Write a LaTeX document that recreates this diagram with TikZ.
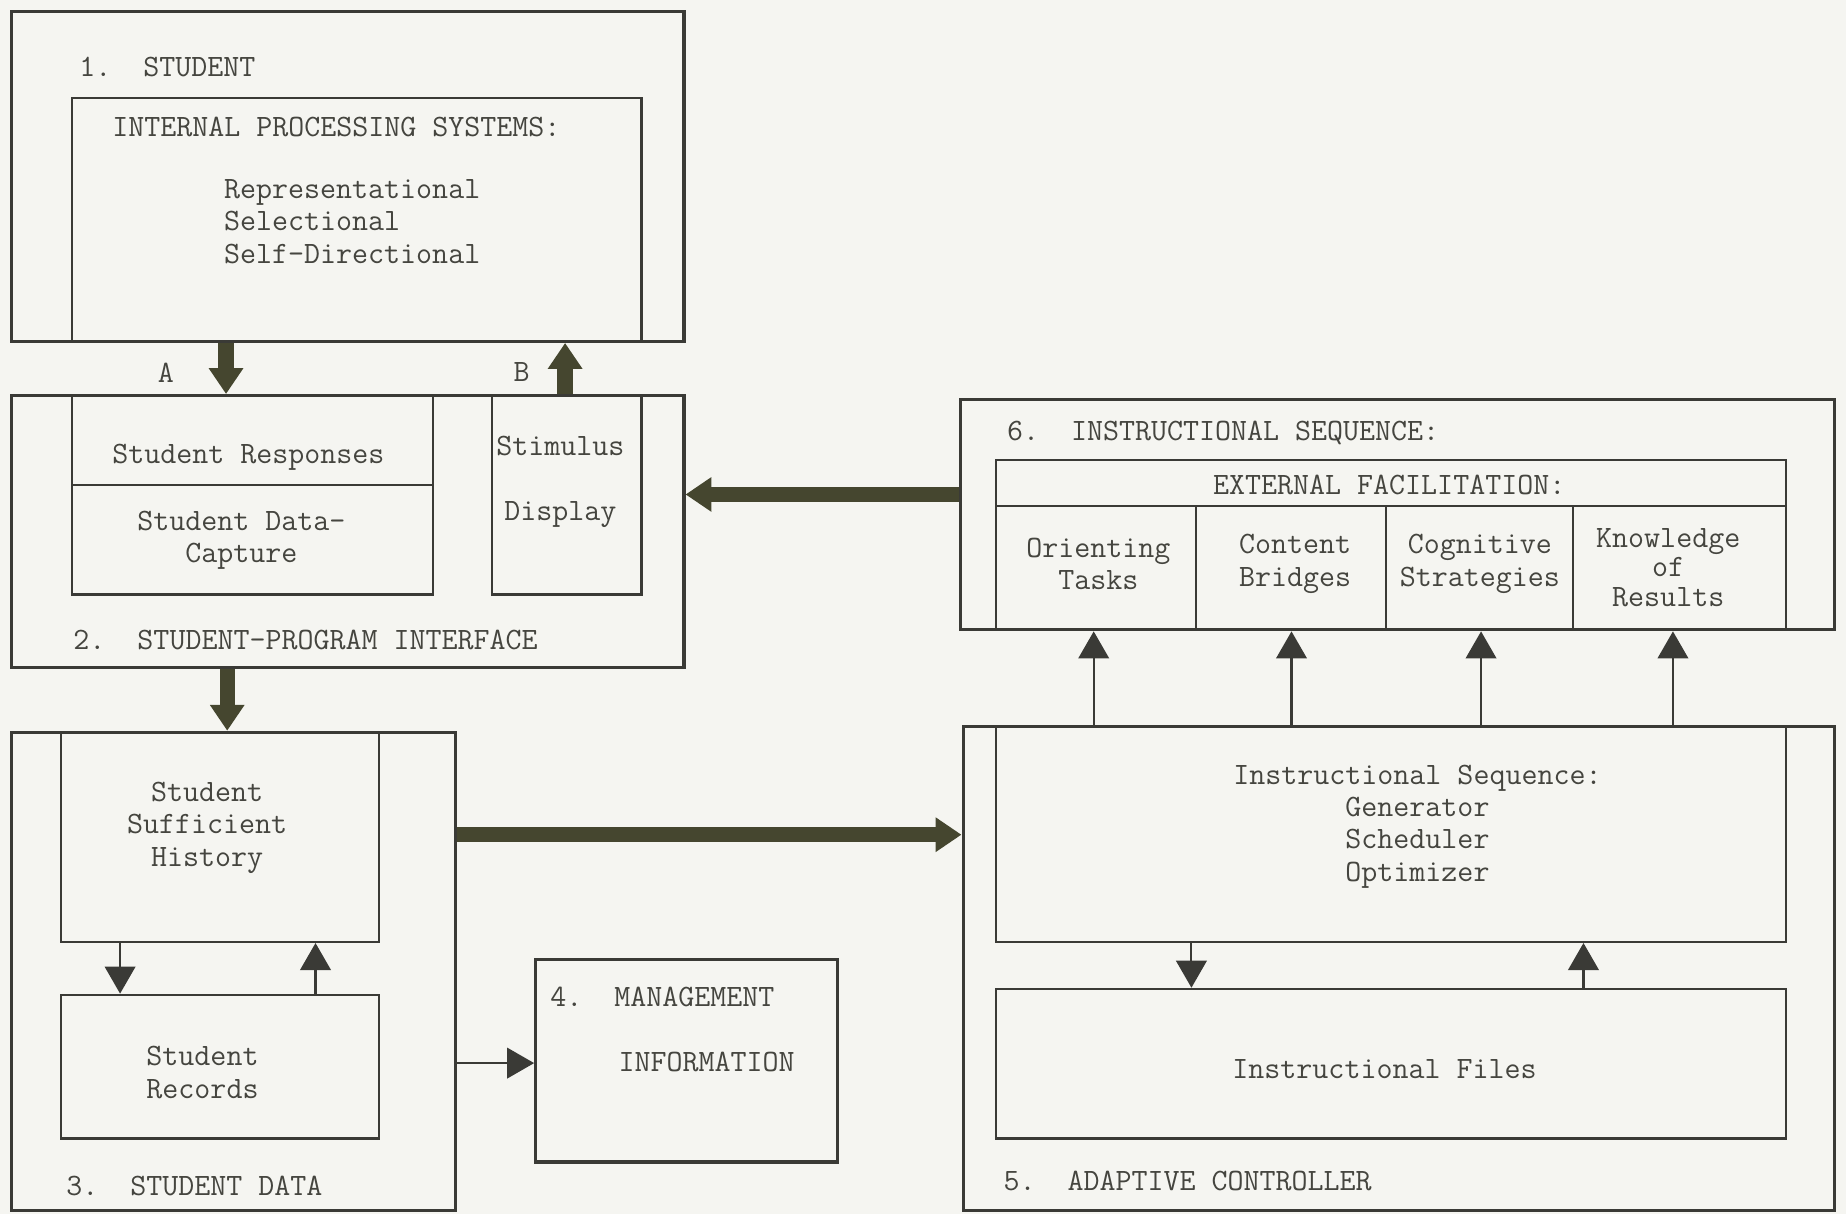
\documentclass[tikz,border=0pt]{standalone}
\usepackage{fontspec}
\usetikzlibrary{arrows.meta,fit}
\definecolor{paper}{HTML}{F5F5F1}
\definecolor{ink}{HTML}{3A3A36}
\definecolor{olive}{HTML}{45462F}
\definecolor{typed}{HTML}{45453F}
\newcommand{\typeface}{\ttfamily\addfontfeatures{FakeBold=0.7}\fontsize{13.2}{13.75}\selectfont}
\frenchspacing
\begin{document}
\begin{tikzpicture}[x=0.5pt,y=-0.5pt,
  outerbox/.style={draw=ink, line width=1.3pt, inner sep=0pt},
  innerbox/.style={draw=ink, line width=1pt, inner sep=0pt},
  txt/.style={text=typed, font=\typeface, inner sep=0pt, align=center},
  heavy/.style={draw=olive, line width=6.5pt, -{Triangle[length=11pt,width=14pt]}},
  light/.style={draw=ink, line width=0.9pt, -{Triangle[length=11.5pt,width=13pt]}}]

\fill[paper] (0,0) rectangle (1568,1031);
\useasboundingbox (0,0) rectangle (1568,1031);

% 1. Student
\node[outerbox, fit={(10,10)(581,290)}] (student) {};
\node[innerbox, fit={(61,83)(545,290)}] (ips) {};
\node[txt, anchor=west] (studentlbl) at (67,57) {1.\ \ STUDENT};
\node[txt, anchor=west] (ipslbl) at (95,108) {INTERNAL PROCESSING SYSTEMS:};
\node[txt, anchor=north west, align=left] (ipslist) at (190,152)
  {Representational\\Selectional\\Self-Directional};

% 2. Student-program interface
\node[outerbox, fit={(10,336)(581,567)}] (spi) {};
\node[innerbox, fit={(61,336)(368,412)}] (resp) {};
\node[innerbox, fit={(61,412)(368,505)}] (capt) {};
\node[innerbox, fit={(418,336)(545,505)}] (stim) {};
\node[txt] (resplbl) at (211,388) {Student Responses};
\node[txt] (captlbl) at (205,459) {Student Data-\\Capture};
\node[txt] (stimlbl) at (476,409) {Stimulus\\[13.75pt]Display};
\node[txt, anchor=west] (spilbl) at (62,544) {2.\ \ STUDENT-PROGRAM INTERFACE};

% 3. Student data
\node[outerbox, fit={(10,622)(387,1028)}] (sdata) {};
\node[innerbox, fit={(52,622)(322,800)}] (hist) {};
\node[innerbox, fit={(52,845)(322,967)}] (recs) {};
\node[txt] (histlbl) at (176,703) {Student\\Sufficient\\History};
\node[txt] (recslbl) at (172,911) {Student\\Records};
\node[txt, anchor=west] (sdatalbl) at (56,1007) {3.\ \ STUDENT DATA};

% 4. Management information
\node[outerbox, fit={(455,815)(711,987)}] (mgmt) {};
\node[txt, anchor=west] (mgmtlbl) at (467,847) {4.\ \ MANAGEMENT};
\node[txt, anchor=west] (mgmtlbl2) at (525,902) {INFORMATION};

% 6. Instructional sequence
\node[outerbox, fit={(816,339)(1558,535)}] (seq) {};
\node[innerbox, fit={(846,391)(1517,430)}] (efac) {};
\node[innerbox, fit={(846,430)(1016,535)}] (colA) {};
\node[innerbox, fit={(1016,430)(1177,535)}] (colB) {};
\node[innerbox, fit={(1177,430)(1336,535)}] (colC) {};
\node[innerbox, fit={(1336,430)(1517,535)}] (colD) {};
\node[txt, anchor=west] (seqlbl) at (855,368) {6.\ \ INSTRUCTIONAL SEQUENCE:};
\node[txt] (efaclbl) at (1180,412) {EXTERNAL FACILITATION:};
\node[txt] (colAlbl) at (933,479) {Orienting\\Tasks};
\node[txt] (colBlbl) at (1100,479) {Content\\Bridges};
\node[txt] (colClbl) at (1257,479) {Cognitive\\Strategies};
\node[txt] (colDlbl) at (1417,482) {Knowledge\\[-1.2pt]of\\[-1.2pt]Results};

% 5. Adaptive controller
\node[outerbox, fit={(818,617)(1558,1028)}] (ctrl) {};
\node[innerbox, fit={(846,617)(1517,800)}] (gen) {};
\node[innerbox, fit={(846,840)(1517,967)}] (files) {};
\node[txt] (genlbl) at (1204,702) {Instructional Sequence:\\Generator\\Scheduler\\Optimizer};
\node[txt] (fileslbl) at (1176,908) {Instructional Files};
\node[txt, anchor=west] (ctrllbl) at (852,1003) {5.\ \ ADAPTIVE CONTROLLER};

% channel labels
\node[txt] (chA) at (141,317) {A};
\node[txt] (chB) at (443,316) {B};

% x / y positions of the connectors
\coordinate (xA) at (192,0);
\coordinate (xB) at (480,0);
\coordinate (xC) at (193,0);
\coordinate (xH1) at (102,0);
\coordinate (xH2) at (268,0);
\coordinate (xG1) at (1012,0);
\coordinate (xG2) at (1345,0);
\coordinate (xF1) at (929,0);
\coordinate (xF2) at (1097,0);
\coordinate (xF3) at (1258,0);
\coordinate (xF4) at (1421,0);
\coordinate (yS) at (0,420);
\coordinate (yD) at (0,709);
\coordinate (yM) at (0,903);

% heavy data channels
\draw[heavy] (xA |- student.south) -- (xA |- spi.north);
\draw[heavy] (xB |- spi.north) -- (xB |- student.south);
\draw[heavy] (xC |- spi.south) -- (xC |- sdata.north);
\draw[heavy] (seq.west |- yS) -- (spi.east |- yS);
\draw[heavy] (sdata.east |- yD) -- (ctrl.west |- yD);

% light connectors
\draw[light] (sdata.east |- yM) -- (mgmt.west |- yM);
\draw[light] (xH1 |- hist.south) -- (xH1 |- recs.north);
\draw[light] (xH2 |- recs.north) -- (xH2 |- hist.south);
\draw[light] (xG1 |- gen.south) -- (xG1 |- files.north);
\draw[light] (xG2 |- files.north) -- (xG2 |- gen.south);
\draw[light] (xF1 |- ctrl.north) -- (xF1 |- seq.south);
\draw[light] (xF2 |- ctrl.north) -- (xF2 |- seq.south);
\draw[light] (xF3 |- ctrl.north) -- (xF3 |- seq.south);
\draw[light] (xF4 |- ctrl.north) -- (xF4 |- seq.south);
\end{tikzpicture}
\end{document}
